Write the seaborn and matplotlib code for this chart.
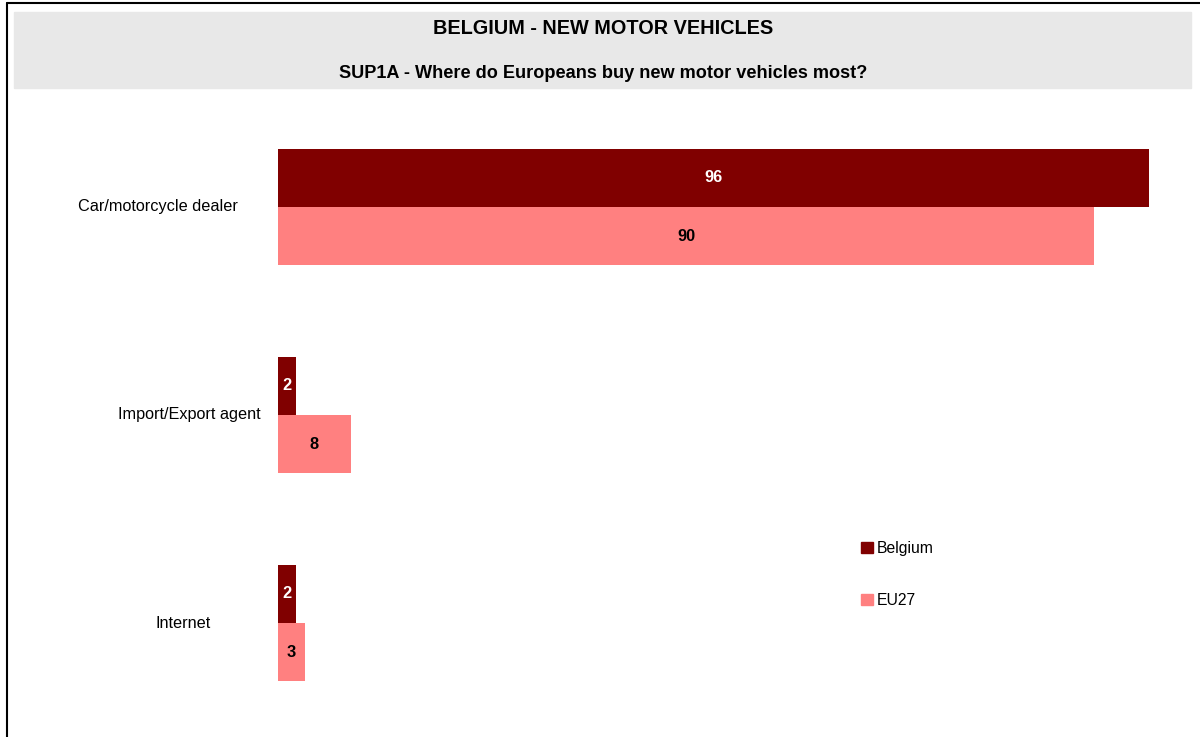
import pandas as pd
import matplotlib.pyplot as plt
import seaborn as sns
from matplotlib.patches import Rectangle, Patch

sns.set_style("white")
plt.rcParams['font.family'] = ['Liberation Sans', 'DejaVu Sans']
plt.rcParams['text.color'] = 'black'

categories = ["Car/motorcycle dealer", "Import/Export agent", "Internet"]
belgium = [96, 2, 2]
eu27 = [90, 8, 3]
series = ["Belgium", "EU27"]
colors = {"Belgium": "#800000", "EU27": "#FF8080"}

df = pd.DataFrame({
    "Category": categories * 2,
    "Value": belgium + eu27,
    "Country": ["Belgium"] * 3 + ["EU27"] * 3,
})

fig = plt.figure(figsize=(12, 7.37), dpi=100)
W, H = 1200, 737

# frame lines and grey title band
fig.add_artist(plt.Line2D([6.5 / W, 6.5 / W], [0, 1 - 2.5 / H], color="black", lw=1.5))
fig.add_artist(plt.Line2D([6.5 / W, 1], [1 - 2.5 / H, 1 - 2.5 / H], color="black", lw=1.5))
fig.add_artist(Rectangle((14 / W, 1 - 88 / H), 1177 / W, 76 / H,
                         transform=fig.transFigure, color="#E8E8E8", zorder=0))
fig.text(603 / W, 1 - 29 / H, "BELGIUM - NEW MOTOR VEHICLES", ha="center", va="center",
         fontsize=14.3, fontweight="bold")
fig.text(603 / W, 1 - 74 / H, "SUP1A - Where do Europeans buy new motor vehicles most?",
         ha="center", va="center", fontsize=13.1, fontweight="bold")

ax = fig.add_axes([278 / W, 1 - 727 / H, 907 / W, 624 / H])
sns.barplot(data=df, y="Category", x="Value", hue="Country", orient="h",
            palette=colors, width=0.558, saturation=1, linewidth=0, ax=ax, legend=False)
ax.set_xlim(0, 100)
ax.set_ylim(2.5, -0.5)
ax.set_xlabel("")
ax.set_ylabel("")
ax.set_xticks([])
ax.set_yticks([])
sns.despine(ax=ax, left=True, bottom=True)

for container, name in zip(ax.containers, series):
    ax.bar_label(container, label_type="center", fontsize=11.8, fontweight="bold",
                 color="white" if name == "Belgium" else "black")

label_x = [158, 189, 183]
for i, (cat, lx) in enumerate(zip(categories, label_x)):
    fig.text(lx / W, 1 - (207 + 208 * i) / H, cat, ha="center", va="center", fontsize=11.7)

handles = [Patch(color=colors[s], label=s) for s in series]
fig.legend(handles=handles, loc="upper left", bbox_to_anchor=(853 / W, 1 - 533 / H),
           frameon=False, fontsize=11.3, handlelength=0.75, handleheight=0.75,
           handletextpad=0.25, labelspacing=2.35, borderpad=0)

fig.savefig("out.png", dpi=100)
